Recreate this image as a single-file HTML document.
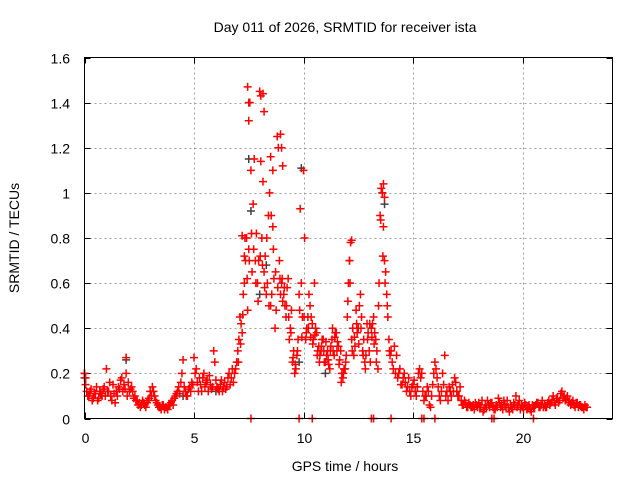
<!DOCTYPE html>
<html><head><meta charset="utf-8"><style>
body{margin:0;background:#fff}
svg{display:block;font-family:"Liberation Sans",sans-serif}
</style></head><body>
<svg id="chart" width="640" height="480" viewBox="0 0 640 480">
<text x="345" y="32" font-size="14" text-anchor="middle">Day 011 of 2026, SRMTID for receiver ista</text>
<text transform="translate(19,238) rotate(-90)" font-size="14" text-anchor="middle">SRMTID / TECUs</text>
<text x="345" y="471" font-size="14" text-anchor="middle">GPS time / hours</text>
<g id="grid"></g>
<g id="ticks"></g>
<g id="gray"></g>
<g id="red"></g>
<rect x="84.5" y="57.5" width="528" height="361" fill="none" stroke="#000" stroke-width="1"/>
</svg>
<script>
const xTicks=[0,5,10,15,20];
const yTicks=[0,0.2,0.4,0.6,0.8,1,1.2,1.4,1.6];
const yTickLabels=["0","0.2","0.4","0.6","0.8","1","1.2","1.4","1.6"];
const redA=[0.20,0.12,0.10,0.13,0.09,0.11,0.08,0.12,0.10,0.14,
0.22,0.12,0.10,0.15,0.07,0.10,0.13,0.18,0.15,0.20,
0.16,0.13,0.12,0.10,0.08,0.07,0.06,0.07,0.05,0.08,
0.12,0.14,0.10,0.07,0.05,0.04,0.06,0.05,0.04,0.06,
0.08,0.09,0.11,0.14,0.16,0.26,0.12,0.10,0.14,0.16,
0.27,0.22,0.12,0.15,0.18,0.14,0.17,0.19,0.13,0.30,
0.17,0.13,0.15,0.12,0.16,0.14,0.20,0.18,0.16,0.22,
0.30,0.45,0.38,0.60,0.80,0.75,1.10,0.95,0.70,0.60,
1.45,0.80,0.65,0.55,0.90,0.50,0.85,0.40,1.25,0.70,
0.60,0.55,0.45,0.62,0.40,0.25,0.20,0.28,0.55,0.60,
1.10,0.35,0.45,0.50,0.42,0.60,0.38,0.32,0.30,0.35,
0.25,0.30,0.22,0.35,0.28,0.38,0.32,0.30,0.18,0.22,
0.45,0.70,0.35,0.28,0.48,0.40,0.55,0.30,0.25,0.42,
0.30,0.40,0.45,0.35,0.22,0.90,1.00,0.70,0.55,0.35,
0.30,0.22,0.20,0.18,0.22,0.15,0.20,0.12,0.18,0.10,
0.15,0.12,0.14,0.22,0.20,0.08,0.10,0.12,0.05,0.15,
0.25,0.18,0.10,0.12,0.15,0.10,0.08,0.12,0.15,0.18,
0.12,0.10,0.08,0.06,0.07,0.05,0.06,0.05,0.04,0.06,
0.07,0.05,0.03,0.06,0.08,0.05,0.07,0.04,0.06,0.09,
0.05,0.04,0.06,0.08,0.03,0.05,0.07,0.10,0.06,0.04,
0.05,0.07,0.04,0.06,0.03,0.05,0.06,0.07,0.05,0.08,
0.06,0.05,0.08,0.07,0.10,0.06,0.09,0.08,0.12,0.10,
0.09,0.07,0.06,0.08,0.05,0.07,0.06,0.05,0.04,0.05];
const redB=[0.15,0.10,0.12,0.08,0.11,0.14,0.09,0.11,0.13,0.10,
0.12,0.16,0.08,0.11,0.12,0.14,0.17,0.12,0.13,0.10,
0.12,0.14,0.09,0.08,0.06,0.05,0.08,0.06,0.07,0.09,
0.10,0.12,0.08,0.06,0.05,0.06,0.04,0.05,0.06,0.07,
0.06,0.10,0.12,0.11,0.20,0.14,0.10,0.13,0.12,0.15,
0.20,0.16,0.18,0.12,0.20,0.16,0.12,0.15,0.14,0.25,
0.14,0.12,0.17,0.14,0.13,0.18,0.15,0.22,0.20,0.25,
0.35,0.42,0.55,0.70,0.48,1.40,0.65,1.15,0.82,0.70,
1.43,1.05,0.72,0.60,1.00,0.55,0.62,0.48,1.20,0.55,
0.52,0.50,0.58,0.35,0.48,0.30,0.22,0.35,0.93,0.45,
0.80,0.40,0.55,0.45,0.35,0.40,0.30,0.28,0.35,0.25,
0.28,0.24,0.32,0.30,0.38,0.34,0.26,0.20,0.22,0.28,
0.60,0.78,0.40,0.32,0.38,0.50,0.45,0.35,0.28,0.38,
0.25,0.42,0.38,0.30,0.60,1.02,0.85,0.65,0.45,0.28,
0.25,0.32,0.28,0.20,0.15,0.18,0.16,0.14,0.12,0.14,
0.17,0.10,0.20,0.18,0.12,0.10,0.14,0.06,0.10,0.20,
0.22,0.14,0.08,0.20,0.28,0.12,0.14,0.10,0.12,0.16,
0.10,0.14,0.06,0.08,0.05,0.07,0.05,0.06,0.07,0.05,
0.05,0.08,0.04,0.05,0.06,0.07,0.05,0.04,0.05,0.07,
0.06,0.08,0.05,0.05,0.06,0.04,0.06,0.05,0.08,0.06,
0.04,0.06,0.05,0.04,0.06,0.05,0.07,0.05,0.06,0.05,
0.05,0.07,0.06,0.08,0.07,0.09,0.07,0.11,0.09,0.08,
0.10,0.08,0.07,0.06,0.07,0.05,0.06,0.05,0.06,0.05];
const redC=[0.25,0.33,0.46,0.80,0.62,0.70,0.82,0.75,0.60,0.52,
0.72,0.68,0.58,0.80,0.50,0.90,0.75,0.65,0.58,0.62,
0.62,0.58,0.50,0.45,0.38,0.27,0.24,0.30,0.48,0.36,
0.45,0.38,0.40,0.36,0.33,0.37,0.28,0.25,0.32,0.30,
0.34,0.26,0.30,0.40,0.36,0.30,0.24,0.16,0.20,0.25,
0.52,0.60,0.30,0.36,0.42,0.33,0.40,0.28,0.22,0.35,
0.42,0.36,0.33,0.25,0.50,0.88,0.72,0.60,0.50,0.30];
const extraT=[7.45,7.5,7.5,8.15,8.2,8.05,8.95,9.0,9.05,13.65,13.7,1.9,7.6,9.8,10.4,13.1,13.2,14.0,15.4,15.5,16.0,18.6,18.7,20.5,0.0,0.05,7.2,7.3,8.5,8.6,12.1,12.2];
const extraV=[1.47,1.40,1.32,1.44,1.36,1.14,1.26,1.20,1.12,1.04,0.98,0.27,0,0,0,0,0,0,0,0,0,0,0,0,0.20,0.18,0.81,0.72,1.16,1.10,0.70,0.79];
const grayT=[0.0,1.9,7.5,7.6,8.0,8.3,9.9,9.8,11.0,13.6,13.7,4.5,15.2,6.0];
const grayV=[0.18,0.26,1.15,0.92,0.55,0.68,1.11,0.25,0.20,1.00,0.95,0.10,0.14,0.12];

const NS="http://www.w3.org/2000/svg";
const X0=84.5,XS=21.9,Y0=418.5,YS=225.6;
function sx(t){return X0+t*XS;}
function sy(v){return Y0-v*YS;}
const grid=document.getElementById('grid'),ticks=document.getElementById('ticks');
function line(g,x1,y1,x2,y2,st,dash){const l=document.createElementNS(NS,'line');l.setAttribute('x1',x1);l.setAttribute('y1',y1);l.setAttribute('x2',x2);l.setAttribute('y2',y2);l.setAttribute('stroke',st);if(dash)l.setAttribute('stroke-dasharray',dash);g.appendChild(l);return l;}
yTicks.forEach((v,i)=>{const y=Math.round(sy(v))+0.5;
 if(i>0&&i<yTicks.length-1){const gl=line(grid,84.5,y,612.5,y,'#a0a0a0','2,3');
 
 }
 line(ticks,84.5,y,90.5,y,'#000');line(ticks,606.5,y,612.5,y,'#000');
 const t=document.createElementNS(NS,'text');t.setAttribute('x',70);t.setAttribute('y',y+5);t.setAttribute('font-size','14');t.setAttribute('text-anchor','end');t.textContent=yTickLabels[i];
 
 
 ticks.appendChild(t);});
xTicks.forEach((h,i)=>{const x=Math.round(sx(h))+0.5;
 if(i>0){const gl=line(grid,x,57.5,x,418.5,'#a0a0a0','2,3');
 
 }
 line(ticks,x,418.5,x,412.5,'#000');line(ticks,x,57.5,x,63.5,'#000');
 const t=document.createElementNS(NS,'text');t.setAttribute('x',x);t.setAttribute('y',443);t.setAttribute('font-size','14');t.setAttribute('text-anchor','middle');t.textContent=String(h);
 
 
 ticks.appendChild(t);});
function mark(g,t,v,col){const p=document.createElementNS(NS,'path');const x=sx(t),y=sy(v);
 p.setAttribute('d','M'+(x-4)+' '+y+'h8M'+x+' '+(y-4)+'v8');p.setAttribute('stroke',col);p.setAttribute('stroke-width','1.5');
 
 
 g.appendChild(p);}
const gG=document.getElementById('gray'),gR=document.getElementById('red');
grayT.forEach((t,i)=>mark(gG,t,grayV[i],'#404040'));
redA.forEach((v,i)=>mark(gR,i*0.1,v,'#ff0000'));
redB.forEach((v,i)=>mark(gR,i*0.1+0.05,v,'#ff0000'));
redC.forEach((v,i)=>mark(gR,7+i*0.1+0.025,v,'#ff0000'));
extraT.forEach((t,i)=>mark(gR,t,extraV[i],'#ff0000'));
</script>
</body></html>
